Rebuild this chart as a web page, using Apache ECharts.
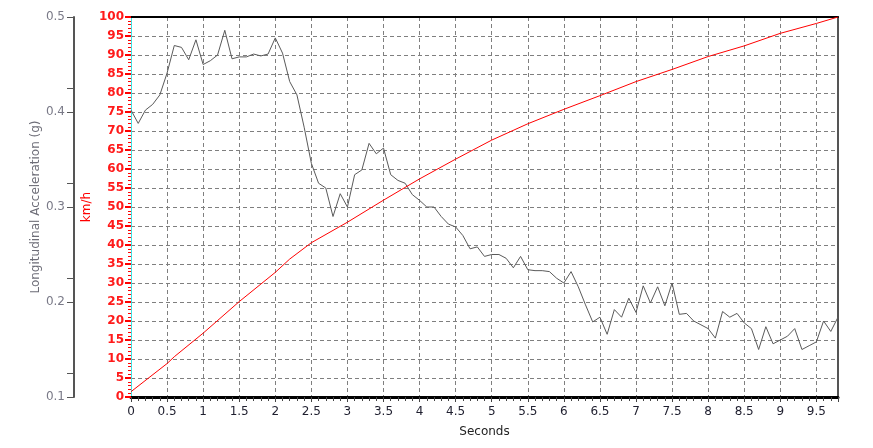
<!DOCTYPE html>
<html><head><meta charset="utf-8">
<script src="https://cdn.jsdelivr.net/npm/echarts@6/dist/echarts.min.js"></script>
<style>html,body{margin:0;padding:0;background:#fff}#c{width:873px;height:448px}</style>
</head><body><div id="c"></div>
<script>
// Longitudinal acceleration (g), sampled every 0.1 s
const accelTime = [0,0.1,0.2,0.3,0.4,0.5,0.6,0.7,0.8,0.9,
  1,1.1,1.2,1.3,1.4,1.5,1.6,1.7,1.8,1.9,
  2,2.1,2.2,2.3,2.4,2.5,2.6,2.7,2.8,2.9,
  3,3.1,3.2,3.3,3.4,3.5,3.6,3.7,3.8,3.9,
  4,4.1,4.2,4.3,4.4,4.5,4.6,4.7,4.8,4.9,
  5,5.1,5.2,5.3,5.4,5.5,5.6,5.7,5.8,5.9,
  6,6.1,6.2,6.3,6.4,6.5,6.6,6.7,6.8,6.9,
  7,7.1,7.2,7.3,7.4,7.5,7.6,7.7,7.8,7.9,
  8,8.1,8.2,8.3,8.4,8.5,8.6,8.7,8.8,8.9,
  9,9.1,9.2,9.3,9.4,9.5,9.6,9.7,9.8];
const accelG = [0.402,0.388,0.402,0.408,0.418,0.441,0.470,0.468,0.455,0.476,
  0.450,0.454,0.460,0.486,0.456,0.458,0.458,0.461,0.459,0.461,
  0.478,0.462,0.432,0.418,0.384,0.346,0.325,0.320,0.290,0.314,
  0.300,0.334,0.339,0.367,0.356,0.362,0.334,0.328,0.325,0.313,
  0.307,0.300,0.300,0.290,0.282,0.279,0.270,0.256,0.258,0.248,
  0.250,0.250,0.246,0.236,0.248,0.234,0.233,0.233,0.232,0.225,
  0.220,0.232,0.216,0.197,0.179,0.184,0.166,0.192,0.184,0.204,
  0.189,0.217,0.199,0.216,0.196,0.220,0.187,0.188,0.180,0.176,
  0.172,0.162,0.190,0.184,0.188,0.178,0.172,0.150,0.174,0.156,
  0.160,0.164,0.172,0.150,0.154,0.158,0.180,0.169,0.184];
// Speed (km/h)
const speedTime = [0,0.5,0.6,1,1.5,2,2.2,2.5,3,3.5,4,4.5,5,5.5,6,6.5,7,7.5,8,8.5,9,9.5,9.8];
const speedKmh  = [1.4,8.8,10.6,16.8,25.1,32.8,36.3,40.6,46,51.8,57.4,62.6,67.6,71.9,75.7,79.3,83,86.2,89.6,92.4,95.7,98.3,100];
const gTickValues = [0.1,0.125,0.2,0.225,0.3,0.325,0.4,0.425,0.5];

const FONT = 'DejaVu Sans';
const chart = echarts.init(document.getElementById('c'), null, {renderer:'canvas'});
const dash = {color:'#7f7f7f', type:[4,3], width:1};
chart.setOption({
  animation:false,
  backgroundColor:'#fff',
  grid:{left:131, right:35, top:17, bottom:51, show:false},
  xAxis:[
    {type:'value', min:0, max:9.8, interval:0.5, position:'bottom',
     name:'Seconds', nameLocation:'middle', nameGap:29, nameMoveOverlap:false,
     nameTextStyle:{color:'#222', fontFamily:FONT, fontSize:12},
     axisLine:{show:true, onZero:false, lineStyle:{color:'#000', width:3}},
     axisTick:{show:true, length:5, lineStyle:{color:'#444'}},
     minorTick:{show:true, splitNumber:5, length:4, lineStyle:{color:'#444'}},
     axisLabel:{color:'#1e1e2e', margin:9, showMaxLabel:false, fontFamily:FONT, fontSize:12},
     splitLine:{show:true, showMinLine:false, showMaxLine:false, lineStyle:dash}},
    {type:'value', min:0, max:9.8, position:'top',
     axisLine:{show:true, onZero:false, lineStyle:{color:'#000', width:2}},
     axisTick:{show:false}, axisLabel:{show:false}, splitLine:{show:false}}
  ],
  yAxis:[
    {type:'value', min:0, max:100, interval:5, position:'left',
     name:'km/h', nameLocation:'middle', nameGap:38, nameMoveOverlap:false,
     nameTextStyle:{color:'#ff0000', fontFamily:FONT, fontSize:12},
     axisLine:{show:true, onZero:false, lineStyle:{color:'#40e0e0', width:1}},
     axisTick:{show:true, length:6, lineStyle:{color:'#ff0000', width:2}},
     minorTick:{show:true, splitNumber:5, length:3, lineStyle:{color:'#ff0000', width:1}},
     axisLabel:{color:'#ff1a1a', margin:7, fontFamily:FONT, fontSize:12, fontWeight:'bold'},
     splitLine:{show:true, showMinLine:false, showMaxLine:false, lineStyle:dash}},
    {type:'value', min:0.1, max:0.5, interval:0.1, position:'left', offset:57,
     name:'Longitudinal Acceleration (g)', nameLocation:'middle', nameGap:32, nameMoveOverlap:false,
     nameTextStyle:{color:'#6e6e78', fontFamily:FONT, fontSize:12},
     axisLine:{show:true, onZero:false, lineStyle:{color:'#555', width:2}},
     axisTick:{show:true, length:7, customValues:gTickValues, lineStyle:{color:'#555', width:1}},
     axisLabel:{color:'#7a7a88', margin:9, fontFamily:FONT, fontSize:12},
     splitLine:{show:false}},
    {type:'value', min:0, max:100, position:'right',
     axisLine:{show:true, onZero:false, lineStyle:{color:'#555', width:2}},
     axisTick:{show:false}, axisLabel:{show:false}, splitLine:{show:false}}
  ],
  series:[
    {type:'line', xAxisIndex:0, yAxisIndex:1, showSymbol:false, symbol:'none',
     data: accelTime.map((t,i)=>[t, accelG[i]]),
     lineStyle:{color:'#5a5a5a', width:1}, z:3},
    {type:'line', xAxisIndex:0, yAxisIndex:0, showSymbol:false, symbol:'none',
     data: speedTime.map((t,i)=>[t, speedKmh[i]]),
     lineStyle:{color:'#ff0000', width:1}, z:4}
  ]
});
</script>
</body></html>
